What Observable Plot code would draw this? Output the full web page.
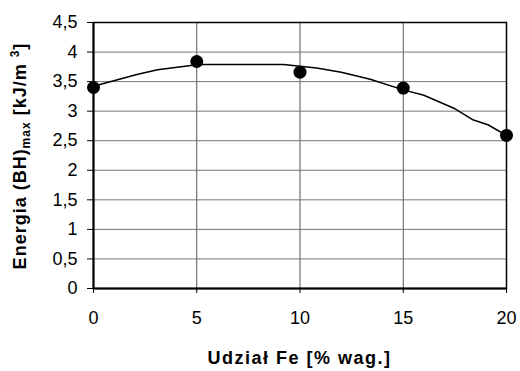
<!DOCTYPE html>
<html>
<head>
<meta charset="utf-8">
<script src="https://cdn.jsdelivr.net/npm/d3@7"></script>
<script src="https://cdn.jsdelivr.net/npm/@observablehq/plot@0.6"></script>
<style>
  body { margin: 0; background: #fff; }
  #chart svg { display: block; }
</style>
</head>
<body>
<div id="chart"></div>
<script>
// Measured points
const feShare = [0, 5, 10, 15, 20];
const energy = [3.4, 3.84, 3.66, 3.39, 2.59];

// Trend line
const trendX = [0, 2.1, 3.1, 5.1, 7, 9.2, 10, 10.8, 12, 13.4, 15, 16, 17.45, 18.4, 19.1, 20];
const trendY = [3.42, 3.62, 3.70, 3.79, 3.79, 3.79, 3.76, 3.73, 3.66, 3.54, 3.36, 3.27, 3.05, 2.85, 2.77, 2.59];

const xTicks = [0, 5, 10, 15, 20];
const yTicks = [0, 0.5, 1, 1.5, 2, 2.5, 3, 3.5, 4, 4.5];

const points = feShare.map((x, i) => ({x, y: energy[i]}));
const trend = trendX.map((x, i) => ({x, y: trendY[i]}));
const fmt = d => String(d).replace(".", ",");
const FONT = "'Liberation Sans', Arial, sans-serif";

const plot = Plot.plot({
  width: 520,
  height: 371,
  marginLeft: 93,
  marginRight: 14,
  marginTop: 22,
  marginBottom: 83,
  style: {fontFamily: FONT, color: "#000", background: "#fff"},
  x: {type: "linear", domain: [0, 20]},
  y: {type: "linear", domain: [0, 4.5]},
  marks: [
    Plot.gridX(xTicks, {stroke: "#555", strokeOpacity: 1, strokeWidth: 1}),
    Plot.gridY(yTicks, {stroke: "#777", strokeOpacity: 1, strokeWidth: 1}),
    Plot.frame({stroke: "#000", strokeWidth: 1.5}),
    Plot.ruleY([0], {stroke: "#000", strokeWidth: 2}),
    Plot.ruleX([0], {stroke: "#000", strokeWidth: 2}),
    Plot.axisX({ticks: xTicks, tickSize: 5, text: null, label: null}),
    Plot.axisY({ticks: yTicks, tickSize: 6, text: null, label: null}),
    Plot.text(xTicks, {x: d => d, y: 0, text: fmt, dy: 30, fontSize: 18, fill: "#000"}),
    Plot.text(yTicks, {x: 0, y: d => d, text: fmt, dx: -16, textAnchor: "end", fontSize: 18, fill: "#000"}),
    Plot.line(trend, {x: "x", y: "y", stroke: "#000", strokeWidth: 1.5, curve: "linear"}),
    Plot.dot(points, {x: "x", y: "y", r: 6.5, fill: "#000", stroke: "none"})
  ]
});

const svg = d3.select(plot);

const cx = (93 + 506) / 2;
svg.append("text")
  .attr("x", cx).attr("y", 364)
  .attr("text-anchor", "middle")
  .style("font-family", FONT)
  .style("font-weight", "bold").style("font-size", "18px")
  .attr("letter-spacing", 1.5)
  .text("Udział Fe [% wag.]");

const yl = svg.append("text")
  .attr("transform", "translate(26,156) rotate(-90)")
  .attr("text-anchor", "middle")
  .style("font-family", FONT)
  .style("font-weight", "bold").style("font-size", "18px")
  .attr("letter-spacing", 1);
yl.append("tspan").text("Energia (BH)");
yl.append("tspan").style("font-size", "12px").attr("dy", 4).text("max");
yl.append("tspan").attr("dy", -4).text(" [kJ/m ");
yl.append("tspan").style("font-size", "12px").attr("dy", -7).text("3");
yl.append("tspan").attr("dy", 7).text("]");

document.getElementById("chart").appendChild(plot);
</script>
</body>
</html>
